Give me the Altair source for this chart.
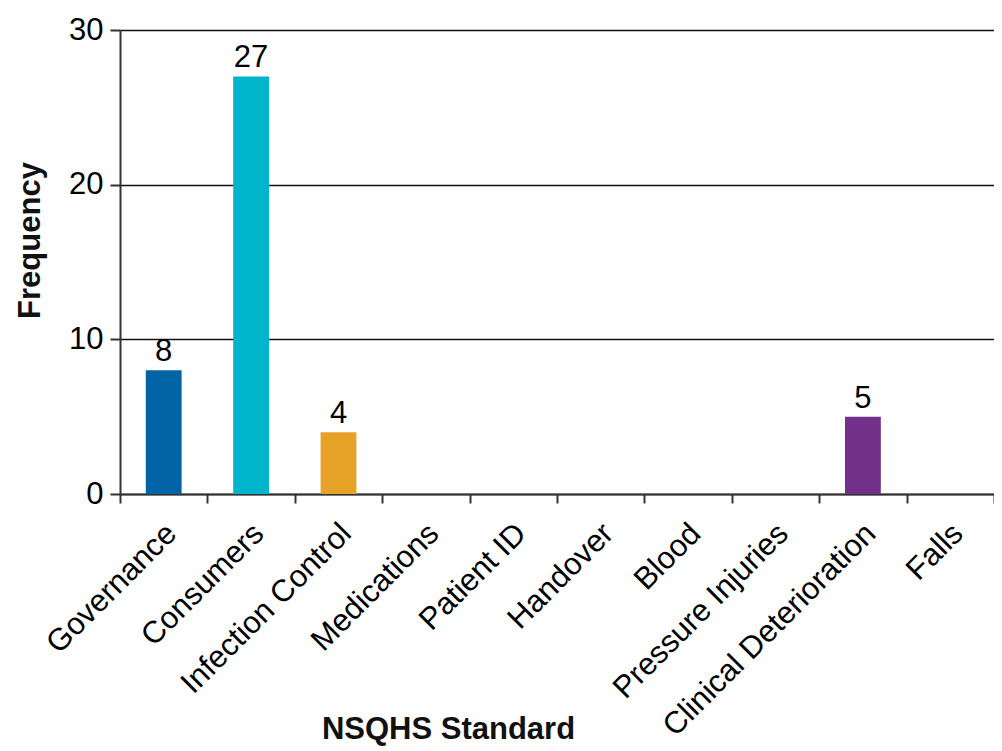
import altair as alt
import pandas as pd

categories = ["Governance", "Consumers", "Infection Control", "Medications",
              "Patient ID", "Handover", "Blood", "Pressure Injuries",
              "Clinical Deterioration", "Falls"]
frequency = [8, 27, 4, 0, 0, 0, 0, 0, 5, 0]
colors = ["#0064A4", "#00B4CC", "#E6A226", "#2E7D32", "#C62828",
          "#6A1B9A", "#AD1457", "#37474F", "#73308A", "#00838F"]

df = pd.DataFrame({"Standard": categories, "Frequency": frequency,
                   "Label": [str(v) if v > 0 else "" for v in frequency]})

FONT = "Liberation Sans"

x = alt.X("Standard:N", sort=categories,
          scale=alt.Scale(paddingInner=0, paddingOuter=0),
          axis=alt.Axis(title="NSQHS Standard", labelAngle=-45, labelAlign="right",
                        labelBaseline="top", labelPadding=15, labelOffset=-3,
                        labelFontSize=31,
                        labelFont=FONT, labelColor="#000", labelLimit=400,
                        tickBand="extent", tickSize=9, tickWidth=2, tickColor="#333",
                        domainColor="#333", domainWidth=2,
                        titleFont=FONT, titleFontSize=31, titleFontWeight="bold",
                        titleColor="#111", titleX=328, titleY=244,
                        titleBaseline="alphabetic", titleAnchor="middle"))

y = alt.Y("Frequency:Q", scale=alt.Scale(domain=[0, 30], nice=False),
          axis=alt.Axis(title="Frequency", values=[0, 10, 20, 30], grid=True,
                        gridColor="#111", gridWidth=1.5, labelFontSize=31,
                        labelFont=FONT, labelColor="#000", labelPadding=7,
                        tickSize=10, tickWidth=2, tickColor="#333",
                        domainColor="#333", domainWidth=2,
                        titleFont=FONT, titleFontSize=31, titleFontWeight="bold",
                        titleColor="#111", titleAngle=-90, titleX=-81, titleY=210,
                        titleAlign="center", titleBaseline="alphabetic"))

bars = alt.Chart(df).mark_bar(width={"band": 0.41}).encode(
    x=x, y=y,
    color=alt.Color("Standard:N", sort=categories,
                    scale=alt.Scale(domain=categories, range=colors), legend=None)
)

text = alt.Chart(df).mark_text(dy=-9, baseline="alphabetic", fontSize=31, font=FONT,
                               color="#000").encode(
    x=alt.X("Standard:N", sort=categories), y="Frequency:Q", text="Label:N"
)

chart = alt.layer(bars, text).properties(
    width=874, height=464,
    padding={"left": 112, "top": 22, "right": 0, "bottom": 252},
    autosize=alt.AutoSizeParams(type="none")
).configure_view(stroke=None).configure(background="white")

chart.save("out.html", embed_options={"renderer": "svg", "actions": False})
